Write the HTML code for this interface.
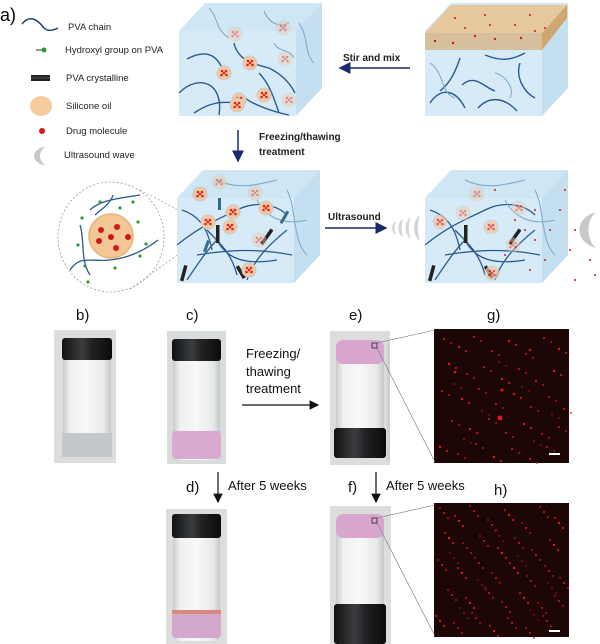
<!DOCTYPE html>
<html><head><meta charset="utf-8"><style>
html,body{margin:0;padding:0;background:#fff;}
svg{display:block;font-family:"Liberation Sans",Arial,sans-serif;}
</style></head><body>
<svg width="600" height="644" viewBox="0 0 600 644" xmlns="http://www.w3.org/2000/svg">
<defs>
<marker id="ah" markerWidth="8" markerHeight="8" refX="7" refY="4" orient="auto"><path d="M0,0 L8,4 L0,8 Z" fill="#1a2a6a"/></marker>
<marker id="ak" markerWidth="8" markerHeight="8" refX="7" refY="4" orient="auto"><path d="M0,0 L8,4 L0,8 Z" fill="#111"/></marker>
<linearGradient id="glass" x1="0" x2="1"><stop offset="0" stop-color="#c9cbcc"/><stop offset="0.15" stop-color="#eef0f1"/><stop offset="0.5" stop-color="#f7f8f8"/><stop offset="0.85" stop-color="#e8eaea"/><stop offset="1" stop-color="#c4c6c7"/></linearGradient>
<linearGradient id="cap" x1="0" x2="1"><stop offset="0" stop-color="#111"/><stop offset="0.4" stop-color="#3a3d40"/><stop offset="0.6" stop-color="#222"/><stop offset="1" stop-color="#0b0b0b"/></linearGradient>
<g id="cube">
<path d="M0,28 L26,0 L143,0 L117,28 Z" fill="#cfe6f4"/>
<path d="M117,28 L143,0 L143,85 L117,113 Z" fill="#c4dff0"/>
<rect x="0" y="28" width="117" height="85" fill="#d6ebf7"/>
</g>
<g id="drop"><circle r="7" fill="#f3caa0" stroke="#c8c8c8" stroke-width="1"/><circle cx="-2" cy="-2" r="1.3" fill="#d22"/><circle cx="2" cy="-2" r="1.3" fill="#d22"/><circle cx="-2.5" cy="2" r="1.3" fill="#d22"/><circle cx="2.5" cy="2" r="1.3" fill="#d22"/><circle cx="0" cy="0" r="1.3" fill="#d22"/></g>
<g id="dropf" opacity="0.45"><use href="#drop"/></g>
<g id="spots" fill="#e01818">
<circle cx="10" cy="10" r="1"/><circle cx="25" cy="18" r="1.2"/><circle cx="40" cy="8" r="1"/><circle cx="58" cy="22" r="1"/><circle cx="75" cy="12" r="1.2"/><circle cx="92" cy="25" r="1"/><circle cx="110" cy="9" r="1"/><circle cx="125" cy="20" r="1.2"/>
<circle cx="15" cy="35" r="1.2"/><circle cx="33" cy="45" r="1"/><circle cx="50" cy="38" r="1"/><circle cx="68" cy="50" r="1.2"/><circle cx="85" cy="40" r="1"/><circle cx="102" cy="52" r="1"/><circle cx="120" cy="42" r="1.2"/>
<circle cx="8" cy="62" r="1"/><circle cx="28" cy="70" r="1.2"/><circle cx="45" cy="60" r="1"/><circle cx="62" cy="75" r="1"/><circle cx="80" cy="65" r="1.2"/><circle cx="97" cy="78" r="1"/><circle cx="115" cy="68" r="1"/><circle cx="130" cy="80" r="1"/>
<circle cx="18" cy="92" r="1"/><circle cx="36" cy="100" r="1.2"/><circle cx="55" cy="90" r="1"/><circle cx="72" cy="104" r="1"/><circle cx="90" cy="95" r="1.2"/><circle cx="108" cy="105" r="1"/><circle cx="125" cy="98" r="1"/>
<circle cx="6" cy="118" r="1.2"/><circle cx="24" cy="125" r="1"/><circle cx="42" cy="115" r="1"/><circle cx="60" cy="128" r="1.2"/><circle cx="78" cy="120" r="1"/><circle cx="96" cy="130" r="1"/><circle cx="113" cy="118" r="1"/>
<circle cx="20" cy="55" r="0.8"/><circle cx="88" cy="58" r="0.8"/><circle cx="48" cy="82" r="0.8"/><circle cx="118" cy="85" r="0.8"/><circle cx="65" cy="33" r="0.8"/><circle cx="100" cy="112" r="0.8"/><circle cx="30" cy="110" r="0.8"/>
</g>
</defs>

<!-- legend -->
<text x="0" y="21" font-size="18">a)</text>
<path d="M22,24 C30,14 38,20 44,28 C48,32 54,30 58,28" fill="none" stroke="#1f3f78" stroke-width="1.5"/>
<text x="68" y="30" font-size="9.5" fill="#222">PVA chain</text>
<line x1="36" y1="50" x2="42" y2="50" stroke="#333" stroke-width="1"/><circle cx="44" cy="50" r="2.5" fill="#2a9a3a"/>
<text x="65" y="53" font-size="9.5" fill="#222">Hydroxyl group on PVA</text>
<rect x="31" y="75" width="19" height="6" fill="#222"/><line x1="31" y1="78" x2="50" y2="78" stroke="#888" stroke-width="0.6"/>
<text x="66" y="81" font-size="9.5" fill="#222">PVA crystalline</text>
<ellipse cx="41" cy="106" rx="11" ry="10" fill="#f6cc9c"/>
<text x="66" y="109" font-size="9.5" fill="#222">Silicone oil</text>
<circle cx="42" cy="131" r="3" fill="#d01818"/>
<text x="66" y="134" font-size="9.5" fill="#222">Drug molecule</text>
<path d="M46,146 C30,150 30,162 46,166 C38,160 38,152 46,146 Z" fill="#c8c8c8"/>
<text x="64" y="158" font-size="9.5" fill="#222">Ultrasound wave</text>

<!-- cube 1 -->
<g transform="translate(179,3)"><use href="#cube"/>
<g fill="none" stroke="#2a5a90" stroke-width="1.4">
<path d="M8,56 C30,44 40,55 45,70"/><path d="M0,90 C20,70 45,80 40,112"/><path d="M55,40 C58,55 70,60 90,65 C100,70 110,78 116,90"/><path d="M80,70 C90,80 95,95 100,110"/><path d="M15,110 C30,100 40,98 60,100"/><path d="M66,95 C72,100 90,108 110,112"/>
</g>
<g fill="none" stroke="#7aa6c8" stroke-width="1"><path d="M30,5 C40,15 35,25 50,35"/><path d="M85,8 C90,20 100,25 110,20"/><path d="M120,20 C130,35 125,50 135,60"/><path d="M95,40 C100,50 110,45 115,55"/></g>
<use href="#drop" x="71" y="60"/><use href="#drop" x="45" y="70"/><use href="#drop" x="85" y="92"/><use href="#drop" x="60" y="97"/><use href="#drop" x="58" y="115" transform="translate(0,-13)"/><use href="#dropf" x="110" y="110" transform="translate(0,-13)"/><use href="#dropf" x="106" y="56"/><use href="#dropf" x="104" y="25"/><use href="#dropf" x="56" y="31"/>
</g>

<!-- cube 2 (right top) -->
<g transform="translate(425,3)"><use href="#cube"/>
<path d="M0,30 L26,2 L142,2 L117,30 Z" fill="#e7c79c"/>
<rect x="0" y="30" width="117" height="17" fill="#d6bf9c"/><path d="M117,30 L142,2 L142,15 L117,47 Z" fill="#cfa770"/>
<g fill="#d01818"><circle cx="10" cy="38" r="1.2"/><circle cx="28" cy="40" r="1.2"/><circle cx="50" cy="33" r="1.2"/><circle cx="70" cy="36" r="1.2"/><circle cx="96" cy="35" r="1.2"/><circle cx="40" cy="25" r="1"/><circle cx="65" cy="22" r="1"/><circle cx="90" cy="22" r="1"/><circle cx="110" cy="28" r="1"/><circle cx="30" cy="15" r="1"/><circle cx="60" cy="12" r="1"/><circle cx="105" cy="12" r="1"/><circle cx="120" cy="25" r="1"/></g>
<g fill="none" stroke="#2a5a90" stroke-width="1.4"><path d="M60,52 C75,58 85,58 100,50"/><path d="M5,100 C15,85 30,85 40,105"/><path d="M35,55 C30,70 25,80 15,88"/><path d="M37,82 C50,70 60,85 70,88"/><path d="M53,105 C65,92 80,95 92,108"/><path d="M95,60 C90,75 100,90 110,95"/></g>
<g fill="none" stroke="#7aa6c8" stroke-width="1"><path d="M5,60 C20,70 15,90 30,95"/><path d="M70,70 C80,72 90,85 85,95"/></g>
</g>

<!-- arrows top -->
<line x1="410" y1="68" x2="340" y2="68" stroke="#1a2a6a" stroke-width="1.5" marker-end="url(#ah)"/>
<text x="343" y="61" font-size="10" font-weight="bold" fill="#222">Stir and mix</text>
<line x1="238" y1="130" x2="238" y2="161" stroke="#1a2a6a" stroke-width="1.5" marker-end="url(#ah)"/>
<text x="259" y="140" font-size="10" font-weight="bold" fill="#222">Freezing/thawing</text>
<text x="259" y="155" font-size="10" font-weight="bold" fill="#222">treatment</text>

<!-- zoom circle -->
<ellipse cx="111" cy="237" rx="53" ry="55" fill="#fff" stroke="#999" stroke-width="0.8" stroke-dasharray="2,2"/>
<line x1="140" y1="190" x2="203" y2="223" stroke="#999" stroke-width="0.7" stroke-dasharray="2,2"/>
<line x1="130" y1="289" x2="205" y2="235" stroke="#999" stroke-width="0.7" stroke-dasharray="2,2"/>
<circle cx="111" cy="236" r="22" fill="#f3c795" stroke="#e8b47c" stroke-width="1.5"/>
<g fill="#d01818"><circle cx="101" cy="230" r="3"/><circle cx="117" cy="227" r="3"/><circle cx="111" cy="237" r="3"/><circle cx="99" cy="241" r="3"/><circle cx="128" cy="237" r="3"/><circle cx="116" cy="248" r="3"/></g>
<g fill="none" stroke="#2a5a90" stroke-width="1.3"><path d="M90,210 C100,200 120,198 140,195"/><path d="M70,270 C80,255 90,262 110,260 C130,258 145,250 158,240"/><path d="M113,195 C110,205 100,210 95,215"/><path d="M80,225 C85,240 80,260 90,275"/></g>
<g fill="#2a9a3a"><circle cx="100" cy="202" r="1.6"/><circle cx="120" cy="208" r="1.6"/><circle cx="138" cy="222" r="1.6"/><circle cx="146" cy="244" r="1.6"/><circle cx="140" cy="256" r="1.6"/><circle cx="115" cy="268" r="1.6"/><circle cx="85" cy="266" r="1.6"/><circle cx="78" cy="245" r="1.6"/><circle cx="82" cy="218" r="1.6"/><circle cx="88" cy="282" r="1.6"/><circle cx="133" cy="202" r="1.6"/></g>

<!-- cube 3 -->
<g transform="translate(177,170)"><use href="#cube"/>
<g fill="none" stroke="#2a5a90" stroke-width="1.3"><path d="M5,40 C20,45 30,55 35,80"/><path d="M0,75 C25,55 40,50 60,40 C80,30 100,35 110,45"/><path d="M10,110 C20,95 30,80 40,70 C50,90 70,95 100,90"/><path d="M20,85 C50,80 80,78 115,85"/><path d="M70,110 C75,95 85,80 110,60"/><path d="M30,60 C45,75 55,85 60,105"/></g>
<g fill="none" stroke="#7aa6c8" stroke-width="1"><path d="M40,10 C60,20 80,15 100,10"/><path d="M80,30 C90,50 110,55 130,50"/><path d="M110,20 C120,40 115,70 130,85"/></g>
<g fill="#222"><rect x="39" y="55" width="3.5" height="18"/><rect x="5" y="95" width="3.5" height="16" transform="rotate(15 6 103)"/><rect x="62" y="95" width="3.5" height="14" transform="rotate(-30 64 102)"/><rect x="88" y="58" width="3.5" height="18" transform="rotate(35 90 67)"/></g>
<g fill="#3a6a8a"><rect x="41" y="28" width="3" height="12"/><rect x="106" y="40" width="3" height="14" transform="rotate(30 107 47)"/><rect x="28" y="70" width="3" height="12" transform="rotate(20 29 76)"/></g>
<use href="#drop" x="15" y="40" transform="translate(16,12)"/><use href="#drop" x="56" y="42"/><use href="#drop" x="53" y="57"/><use href="#drop" x="72" y="100"/><use href="#drop" x="23" y="24"/><use href="#dropf" x="78" y="23"/><use href="#dropf" x="42" y="6" transform="translate(0,6)"/><use href="#dropf" x="102" y="80" transform="translate(-20,-10)"/><use href="#drop" x="89" y="28" transform="translate(0,10)"/>
</g>

<!-- ultrasound arrow -->
<line x1="325" y1="228" x2="386" y2="228" stroke="#1a2a6a" stroke-width="1.5" marker-end="url(#ah)"/>
<text x="328" y="220" font-size="10" font-weight="bold" fill="#222">Ultrasound</text>
<g fill="#d4d4d4"><path d="M396,221 C391,223 391,233 396,235 C394,231 394,225 396,221Z"/><path d="M403,219 C397,222 397,234 403,237 C401,232 401,224 403,219Z"/><path d="M411,217 C404,221 404,235 411,239 C408,233 408,223 411,217Z"/><path d="M420,215 C412,220 412,236 420,241 C417,234 417,222 420,215Z"/></g>

<!-- cube 4 -->
<g transform="translate(425,170)"><use href="#cube"/>
<g fill="none" stroke="#2a5a90" stroke-width="1.3"><path d="M5,40 C20,45 30,55 35,80"/><path d="M0,75 C25,55 40,50 60,40 C80,30 100,35 110,45"/><path d="M10,110 C20,95 30,80 40,70 C50,90 70,95 100,90"/><path d="M20,85 C50,80 80,78 115,85"/><path d="M70,110 C75,95 85,80 110,60"/><path d="M30,60 C45,75 55,85 60,105"/></g>
<g fill="none" stroke="#7aa6c8" stroke-width="1"><path d="M40,10 C60,20 80,15 100,10"/><path d="M80,30 C90,50 110,55 130,50"/><path d="M110,20 C120,40 115,70 130,85"/></g>
<g fill="#222"><rect x="39" y="55" width="3.5" height="18"/><rect x="5" y="95" width="3.5" height="16" transform="rotate(15 6 103)"/><rect x="62" y="95" width="3.5" height="14" transform="rotate(-30 64 102)"/><rect x="88" y="58" width="3.5" height="18" transform="rotate(35 90 67)"/></g>
<use href="#dropf" x="38" y="43"/><use href="#drop" x="15" y="52" opacity="0.7"/><use href="#drop" x="66" y="57" opacity="0.7"/><use href="#drop" x="67" y="103" opacity="0.7"/><use href="#dropf" x="88" y="75"/><use href="#dropf" x="52" y="24"/><use href="#dropf" x="94" y="38"/>
<g fill="#d01818"><circle cx="100" cy="60" r="1"/><circle cx="110" cy="70" r="1"/><circle cx="90" cy="50" r="1"/><circle cx="120" cy="90" r="1"/><circle cx="125" cy="60" r="1"/><circle cx="135" cy="40" r="1"/><circle cx="140" cy="20" r="1"/><circle cx="105" cy="100" r="1"/><circle cx="80" cy="85" r="1"/><circle cx="145" cy="80" r="1"/><circle cx="150" cy="60" r="1"/><circle cx="150" cy="110" r="1"/><circle cx="165" cy="90" r="1"/><circle cx="170" cy="105" r="1"/><circle cx="160" cy="50" r="1"/><circle cx="110" cy="40" r="1"/><circle cx="70" cy="20" r="1"/></g>
</g>
<path d="M600,212 C578,218 578,242 600,248 C590,240 590,220 600,212Z" fill="#c8c8c8" transform="translate(-4,0)"/>

<!-- bottom labels -->
<g font-size="15" fill="#111">
<text x="76" y="320">b)</text><text x="186" y="320">c)</text><text x="349" y="320">e)</text><text x="487" y="320">g)</text>
<text x="186" y="492">d)</text><text x="348" y="492">f)</text><text x="494" y="495">h)</text>
</g>

<!-- vial b -->
<rect x="54" y="330" width="62" height="133" fill="#dcdede"/>
<rect x="63" y="351" width="48" height="106" rx="6" fill="url(#glass)"/>
<rect x="62" y="433" width="50" height="24" fill="#c4c8cc"/>
<rect x="62" y="338" width="50" height="22" rx="3" fill="url(#cap)"/>
<!-- vial c -->
<rect x="167" y="331" width="59" height="133" fill="#d9dcdc"/>
<rect x="173" y="352" width="47" height="108" rx="6" fill="url(#glass)"/>
<rect x="172" y="431" width="49" height="28" rx="4" fill="#d9a9d0"/>
<rect x="172" y="339" width="49" height="22" rx="3" fill="url(#cap)"/>
<!-- vial d -->
<rect x="166" y="509" width="61" height="135" fill="#dcdede"/>
<rect x="173" y="535" width="47" height="106" rx="6" fill="url(#glass)"/>
<rect x="172" y="610" width="49" height="28" rx="4" fill="#d4a8cc"/><rect x="172" y="610" width="49" height="4" fill="#d8887e"/>
<rect x="172" y="514" width="49" height="24" rx="3" fill="url(#cap)"/>
<!-- vial e -->
<rect x="330" y="331" width="60" height="134" fill="#dcdede"/>
<rect x="336" y="340" width="48" height="100" rx="7" fill="url(#glass)"/>
<rect x="336" y="340" width="48" height="24" rx="7" fill="#d8a6cf"/>
<rect x="334" y="428" width="52" height="30" rx="3" fill="url(#cap)"/>
<rect x="387" y="342" width="3" height="120" fill="#cfd0d0"/>
<!-- vial f -->
<rect x="330" y="506" width="61" height="138" fill="#dcdede"/>
<rect x="336" y="514" width="48" height="100" rx="7" fill="url(#glass)"/>
<rect x="336" y="514" width="48" height="24" rx="7" fill="#d8a6cf"/>
<rect x="334" y="604" width="52" height="40" rx="3" fill="url(#cap)"/>

<!-- micrographs -->
<rect x="434" y="329" width="135" height="134" fill="#1d0606"/>
<rect x="434" y="503" width="135" height="134" fill="#1d0606"/>
<use href="#spots" x="434" y="329"/>
<use href="#spots" x="441" y="333" opacity="0.8"/>
<use href="#spots" x="434" y="503"/>
<use href="#spots" x="438" y="508" opacity="0.8"/>
<use href="#spots" x="430" y="498" opacity="0.7"/>
<g fill="#e01818"><circle cx="500" cy="418" r="2.5"/><circle cx="502" cy="390" r="1.5"/><circle cx="455" cy="372" r="1.3"/><circle cx="530" cy="350" r="1.2"/></g>
<rect x="549" y="453" width="11" height="2" fill="#fff"/><rect x="549" y="630" width="11" height="2" fill="#fff"/>
<g stroke="#777" stroke-width="0.6"><line x1="377" y1="343" x2="435" y2="330"/><line x1="377" y1="348" x2="435" y2="462"/><line x1="377" y1="518" x2="435" y2="505"/><line x1="377" y1="523" x2="435" y2="636"/></g>
<rect x="372" y="343" width="5" height="5" fill="none" stroke="#222" stroke-width="0.8"/>
<rect x="372" y="518" width="5" height="5" fill="none" stroke="#222" stroke-width="0.8"/>

<!-- bottom arrows -->
<text x="246" y="358" font-size="13" fill="#111">Freezing/</text>
<text x="246" y="376" font-size="13" fill="#111">thawing</text>
<text x="246" y="393" font-size="13" fill="#111">treatment</text>
<line x1="242" y1="405" x2="318" y2="405" stroke="#111" stroke-width="1.2" marker-end="url(#ak)"/>
<line x1="218" y1="472" x2="218" y2="502" stroke="#111" stroke-width="1.2" marker-end="url(#ak)"/>
<text x="228" y="490" font-size="13" fill="#111">After 5 weeks</text>
<line x1="376" y1="472" x2="376" y2="502" stroke="#111" stroke-width="1.2" marker-end="url(#ak)"/>
<text x="386" y="490" font-size="13" fill="#111">After 5 weeks</text>
</svg>
</body></html>
